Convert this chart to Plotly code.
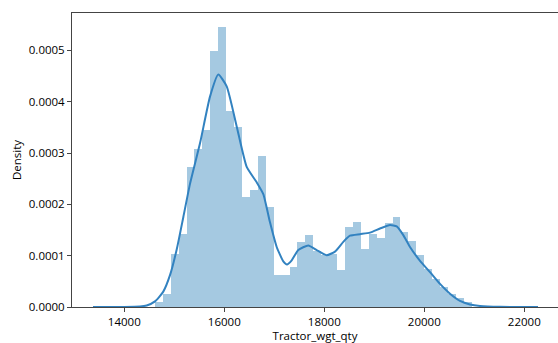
import numpy as np
import plotly.graph_objects as go

# Histogram (density)
bin_start = 14610.0
bin_width = 158.5
density = [0.0000098, 0.000026, 0.000104, 0.000143, 0.000273, 0.000307, 0.000345, 0.000499,
           0.000546, 0.000382, 0.000350, 0.000215, 0.000228, 0.000294, 0.000195, 0.000062,
           0.0000633, 0.000078, 0.000127, 0.000140, 0.000109, 0.000101, 0.000103, 0.0000717,
           0.000155, 0.000166, 0.000114, 0.000143, 0.000134, 0.000163, 0.000175, 0.000146,
           0.000129, 0.000101, 0.000075, 0.0000555, 0.000039, 0.000026, 0.0000176, 0.000010]

# KDE curve
kde_x = [13374, 14000, 14314, 14448, 14614, 14780, 14914, 15048, 15180, 15314, 15514, 15714,
         15880, 16048, 16248, 16448, 16648, 16780, 16914, 17048, 17180, 17254, 17348, 17480,
         17680, 17848, 18048, 18214, 18380, 18514, 18714, 18914, 19114, 19314, 19448, 19580,
         19714, 19914, 20114, 20314, 20514, 20714, 20914, 21114, 21514, 22274]
kde_y = [0.0, 0.0000001, 0.000001, 0.000003, 0.000011, 0.000030, 0.000062, 0.000112,
         0.000175, 0.000240, 0.000319, 0.000410, 0.000453, 0.000430, 0.000352, 0.000273,
         0.000243, 0.000220, 0.000165, 0.000117, 0.000089, 0.000083, 0.000091, 0.000111,
         0.000120, 0.000111, 0.000101, 0.000108, 0.000127, 0.000139, 0.000142, 0.000145,
         0.000153, 0.000160, 0.000157, 0.000140, 0.000117, 0.000090, 0.000068, 0.000045,
         0.000026, 0.000012, 0.000005, 0.000002, 0.0000003, 0.0]

x_ticks = [14000, 16000, 18000, 20000, 22000]
y_ticks = [0.0, 0.0001, 0.0002, 0.0003, 0.0004, 0.0005]

edges = bin_start + bin_width * np.arange(len(density) + 1)
centers = (edges[:-1] + edges[1:]) / 2

fig = go.Figure()
fig.add_trace(go.Bar(x=centers, y=density, width=bin_width,
                     marker=dict(color="rgba(31,119,180,0.4)", line=dict(width=0)),
                     hoverinfo="skip"))
fig.add_trace(go.Scatter(x=kde_x, y=kde_y, mode="lines",
                         line=dict(color="#3282c0", width=2, shape="spline", smoothing=0.5)))

axis_font = dict(family="Open Sans, Noto Sans, sans-serif", size=11.5, color="black")
fig.update_layout(
    width=558, height=343,
    margin=dict(l=72, r=0, t=13, b=36),
    paper_bgcolor="white", plot_bgcolor="white",
    showlegend=False, bargap=0,
    font=axis_font,
)
fig.update_xaxes(range=[12954, 22674], tickvals=x_ticks, ticktext=[str(t) for t in x_ticks],
                 showgrid=False, zeroline=False, showline=True, linecolor="#444", linewidth=1,
                 mirror=True, ticks="outside", ticklen=4, tickcolor="#444", automargin=False,
                 title=dict(text="Tractor_wgt_qty", standoff=7, font=axis_font), tickfont=axis_font)
fig.update_yaxes(range=[0, 0.000573], tickvals=y_ticks, ticktext=[f"{t:.4f}" for t in y_ticks],
                 showgrid=False, zeroline=False, showline=True, linecolor="#444", linewidth=1,
                 ticks="outside", ticklen=4, tickcolor="#444", automargin=False,
                 title=dict(text="Density", standoff=4, font=axis_font), tickfont=axis_font)

fig.write_html("out.html", config={"displayModeBar": False},
               post_script="document.body.style.margin='0';document.body.style.padding='0';")
